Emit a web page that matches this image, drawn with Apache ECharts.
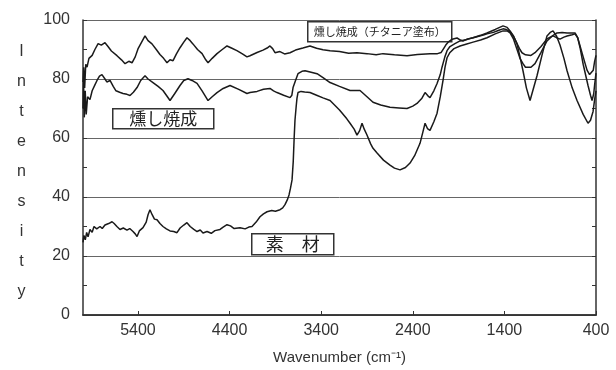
<!DOCTYPE html>
<html><head><meta charset="utf-8">
<script src="https://cdn.jsdelivr.net/npm/echarts@6/dist/echarts.min.js"></script>
<style>html,body{margin:0;padding:0;background:#fff}#c{width:616px;height:370px}</style>
</head><body><div id="c"></div>
<script>
const seriesNames = ['燻し焼成（チタニア塗布）', '燻し焼成', '素　材'];
const xName = 'Wavenumber (cm⁻¹)';
const yName = 'Intensity';

// [wavenumber (cm-1), intensity]
const titaniaData = [[6000,79],[5992,84],[5982,77],[5970,85],[5956,84],[5935,87],[5900,88],[5870,90],[5835,92],[5800,91.5],[5760,92.3],[5727,91],[5690,89.5],[5629,87.9],[5580,86.5],[5541,85.2],[5500,86],[5465,85.5],[5430,87.5],[5400,90.2],[5360,92.5],[5323,94.6],[5290,93],[5247,91.9],[5200,90],[5160,88.3],[5120,87],[5083,85.5],[5050,86.5],[5017,86.2],[4980,88.5],[4941,90.6],[4900,92.5],[4865,94],[4830,93],[4800,91.9],[4750,90],[4700,88.6],[4660,86.5],[4635,85.5],[4590,87],[4537,88.6],[4480,90],[4428,91.2],[4380,90.5],[4320,89.6],[4260,88.5],[4210,87.5],[4177,87.9],[4100,89],[4035,89.8],[3990,90.5],[3959,91.2],[3930,90.3],[3904,88.9],[3850,89.3],[3800,88.5],[3740,88.9],[3680,89.8],[3600,90.5],[3522,91.2],[3450,90.4],[3380,89.9],[3303,89.6],[3200,89.3],[3100,88.7],[3009,88.9],[2900,88.6],[2800,88.2],[2725,88.6],[2600,88.2],[2463,87.9],[2350,88.3],[2212,88.6],[2130,88.6],[2090,89],[2060,90.5],[2040,91.5],[2010,92.6],[1970,93.5],[1917,93.9],[1880,93.2],[1852,92.9],[1800,93.6],[1742,94],[1680,94.5],[1620,95],[1590,95.3],[1520,95.8],[1460,96.5],[1415,97],[1380,96.8],[1338,96],[1300,94.5],[1262,92],[1230,90],[1208,88.9],[1170,88.2],[1153,87.9],[1110,88],[1066,88.9],[1000,91],[935,93.6],[900,94.2],[869,94.6],[830,94],[793,93.5],[750,94.2],[716,94.6],[660,95],[629,95.3],[600,94],[574,91.2],[540,87.5],[498,83],[470,81.5],[450,81],[430,83],[415,86],[400,88]];

const smokedData = [[6000,70],[5994,79],[5986,67],[5976,76],[5965,68],[5950,74],[5924,73],[5900,76],[5870,78],[5847,79.5],[5820,81],[5793,81.5],[5760,80],[5740,79],[5705,79.5],[5670,77.5],[5640,76],[5600,75.5],[5563,75.1],[5520,74.8],[5487,74.4],[5450,75.5],[5410,77.1],[5370,79.5],[5323,81.1],[5290,80],[5236,78.8],[5180,77.5],[5127,76.1],[5090,74.5],[5050,72.7],[5000,75],[4941,77.8],[4900,79.5],[4854,80.1],[4810,79.5],[4755,78.5],[4700,76],[4635,72.7],[4590,74],[4537,75.4],[4470,76.8],[4395,77.8],[4300,76.5],[4210,75.1],[4177,75.4],[4100,75.8],[4030,76.5],[3959,76.8],[3920,76],[3882,75.4],[3810,74.5],[3740,73.7],[3720,74.5],[3707,77.1],[3680,79.5],[3653,81.8],[3610,82.6],[3576,82.8],[3510,82.3],[3445,81.8],[3380,80.5],[3303,78.8],[3200,77.5],[3085,76.1],[2976,76.1],[2900,74],[2834,72.1],[2750,71.2],[2649,70.4],[2550,70.2],[2463,70],[2400,70.8],[2354,71.7],[2300,73.5],[2266,75.4],[2235,74.3],[2212,73.7],[2170,76],[2135,78.5],[2100,81.5],[2081,84],[2050,87.5],[2026,89.6],[1994,91],[1940,92],[1884,92.9],[1820,93.3],[1742,94],[1660,94.8],[1590,95.6],[1500,96.8],[1415,98],[1370,97.5],[1338,96.3],[1300,94.5],[1262,91.9],[1230,87.5],[1197,82.8],[1160,77],[1120,72.7],[1090,76],[1044,81.1],[990,88],[935,94.6],[900,95.8],[869,96.3],[830,94.5],[793,91.5],[750,87],[716,82.8],[660,77],[607,72.7],[540,68],[487,65],[460,66],[432,69],[415,73],[400,76]];

const materialData = [[6000,24.6],[5990,27],[5975,25.5],[5960,28],[5945,26.5],[5924,29],[5900,28],[5880,30],[5850,29.2],[5814,30],[5790,29.3],[5760,30.5],[5720,31],[5683,31.6],[5660,31],[5630,30],[5596,29],[5560,29.5],[5520,28.8],[5490,29.3],[5454,28.3],[5430,27.5],[5410,26.6],[5385,28.5],[5345,29.6],[5310,31.5],[5290,34],[5269,35.7],[5245,34],[5220,32.5],[5192,32.3],[5160,31],[5127,30],[5090,29.2],[5050,28.5],[5010,28.3],[4974,27.9],[4940,29.5],[4900,30.5],[4865,31.3],[4830,30],[4790,29],[4755,28.3],[4720,28.8],[4690,27.8],[4646,28.3],[4600,27.7],[4560,28.6],[4504,29],[4470,29.8],[4428,30.6],[4390,30.2],[4350,29.3],[4286,29.6],[4230,29.2],[4190,29.8],[4155,30],[4110,31.5],[4068,33.3],[4030,34.3],[3991,35],[3940,35.4],[3900,35.2],[3849,35.7],[3820,36.3],[3795,37.4],[3770,39],[3751,40.7],[3735,43],[3718,45.8],[3705,52],[3695,60],[3686,66],[3672,71],[3664,73.5],[3653,75.4],[3620,75.8],[3580,75.6],[3522,75.4],[3450,74.5],[3380,73.6],[3303,72.7],[3200,69.5],[3120,66.5],[3085,65],[3040,63],[3009,61],[2980,62.5],[2954,65],[2930,63],[2900,61],[2860,58],[2834,56.5],[2790,54.9],[2720,52.5],[2649,50.8],[2600,49.8],[2539,49.2],[2480,50],[2430,51.5],[2380,54],[2321,58.2],[2290,62],[2266,65],[2240,63.2],[2212,62.6],[2170,65.5],[2135,68.4],[2100,74],[2070,79.5],[2048,84],[2026,87.2],[1994,89],[1950,90.3],[1884,91.2],[1820,91.8],[1742,92.5],[1660,93.2],[1590,94],[1500,95.3],[1415,96.3],[1370,96.3],[1338,95.6],[1300,93.5],[1262,90],[1230,87],[1197,85.2],[1170,84],[1153,83.5],[1110,84],[1066,85.2],[1000,89],[935,92.9],[880,94.5],[826,95.6],[770,95.8],[716,95.6],[660,95.6],[629,95.6],[600,94],[574,90.6],[540,85],[487,77.8],[460,74.5],[443,72.7],[425,75],[415,78],[400,82]];

const xMin = 400, xMax = 6000, xStep = 1000;
const yMin = 0, yMax = 100, yStep = 20;

const chart = echarts.init(document.getElementById('c'), null, {renderer: 'canvas'});
const latin = "'Liberation Sans', Arial, sans-serif";
const cjk = "'Noto Sans CJK JP', sans-serif";
const ink = '#1a1a1a';

function boxLabel(text, x, y, w, h, fs) {
  return {
    type: 'group', left: x, top: y, z: 100,
    children: [
      {type: 'rect', shape: {x: 0, y: 0, width: w, height: h},
       style: {fill: '#fff', stroke: '#333', lineWidth: 1.5}},
      {type: 'text', x: w / 2, y: h / 2,
       style: {text: text, fill: '#222', font: fs + 'px ' + cjk, textAlign: 'center', textVerticalAlign: 'middle'}}
    ]
  };
}

chart.setOption({
  animation: false,
  backgroundColor: '#fff',
  grid: {left: 83, right: 20, top: 20, bottom: 54},
  xAxis: [{
    type: 'value', inverse: true, min: xMin, max: xMax, interval: xStep,
    axisLine: {show: true, lineStyle: {color: '#333', width: 1.5}},
    axisTick: {show: true, inside: true, length: 4, lineStyle: {color: '#333'}},
    axisLabel: {showMaxLabel: false, color: '#333', fontSize: 16, fontFamily: latin, margin: 8,
                formatter: function (v) { return String(v); }},
    splitLine: {show: false},
    name: xName, nameLocation: 'middle', nameGap: 35,
    nameTextStyle: {color: '#333', fontSize: 15, fontFamily: latin}
  }, {
    type: 'value', position: 'top', inverse: true, min: xMin, max: xMax, interval: xStep,
    axisLine: {show: true, lineStyle: {color: '#333', width: 1.5}},
    axisTick: {show: false}, axisLabel: {show: false}, splitLine: {show: false}
  }],
  yAxis: [{
    type: 'value', min: yMin, max: yMax, interval: yStep,
    axisLine: {show: true, lineStyle: {color: '#333', width: 1.5}},
    axisTick: {show: true, inside: true, length: 4, lineStyle: {color: '#333'}},
    minorTick: {show: true, splitNumber: 2, length: 4, lineStyle: {color: '#333'}},
    axisLabel: {color: '#333', fontSize: 16, fontFamily: latin, margin: 13},
    splitLine: {show: true, lineStyle: {color: '#666', width: 1}}
  }, {
    type: 'value', position: 'right', min: yMin, max: yMax, interval: yStep,
    axisLine: {show: true, lineStyle: {color: '#333', width: 1.5}},
    axisTick: {show: true, inside: true, length: 4, lineStyle: {color: '#333'}},
    minorTick: {show: true, splitNumber: 2, length: 4, lineStyle: {color: '#333'}},
    axisLabel: {show: false}, splitLine: {show: false}
  }],
  series: [
    {name: seriesNames[0], type: 'line', data: titaniaData, showSymbol: false, symbol: 'none',
     lineStyle: {color: ink, width: 1.5}},
    {name: seriesNames[1], type: 'line', data: smokedData, showSymbol: false, symbol: 'none',
     lineStyle: {color: ink, width: 1.5}},
    {name: seriesNames[2], type: 'line', data: materialData, showSymbol: false, symbol: 'none',
     lineStyle: {color: ink, width: 1.5}}
  ],
  graphic: [
    {type: 'text', left: 17, top: 37, z: 100,
     style: {text: yName.split('').join('\n'), fill: '#333', font: '16px ' + latin, lineHeight: 30, textAlign: 'center'}},
    boxLabel(seriesNames[0], 307, 21, 144, 20, 11),
    boxLabel(seriesNames[1], 112, 108, 101, 20, 17),
    boxLabel(seriesNames[2], 251, 233, 82, 21, 18)
  ]
});
</script>
</body></html>
